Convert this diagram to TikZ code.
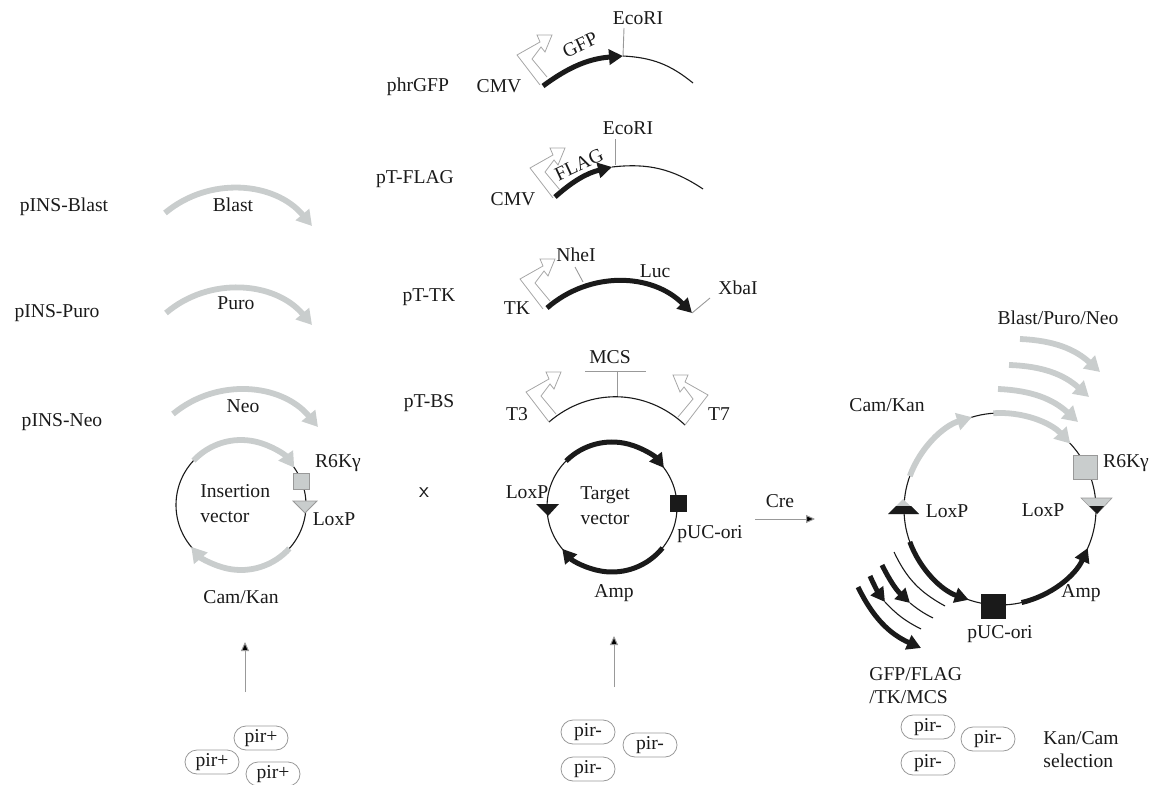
\documentclass[tikz,border=0pt]{standalone}
\usepackage{fontspec}
\setmainfont{Liberation Serif}
\usepackage{xcolor}
\usepackage{tikz}
\usetikzlibrary{arrows.meta, shapes.misc}
\definecolor{featgrey}{HTML}{C9CDCD}
\definecolor{inkblack}{HTML}{1A1A1A}

\begin{document}
\begin{tikzpicture}[
  x=0.5pt, y=-0.5pt,
  lbl/.style={font=\fontsize{9.8}{11.5}\selectfont, text=inkblack, inner sep=0pt, align=left},
  plain/.style={draw=inkblack, line width=0.55pt},
  tick/.style={draw=gray!80, line width=0.45pt},
  greyarc/.style={draw=featgrey, line width=2.9pt, -{Triangle[length=7.5pt, width=8.5pt, fill=featgrey]}},
  blackarc/.style={draw=inkblack, line width=2.5pt, -{Triangle[length=7pt, width=7.5pt, fill=inkblack]}},
  upline/.style={draw=gray!80, line width=0.5pt, -{Triangle[length=4.5pt, width=4pt, fill=black]}},
  pill/.style={rounded rectangle, draw=gray!80, line width=0.4pt, minimum width=27pt,
               minimum height=12pt, inner sep=0pt, font=\fontsize{9.8}{11.5}\selectfont, text=inkblack},
  marker/.style={rectangle, draw=gray!80, line width=0.4pt, inner sep=0pt},
  promoter/.pic={
    \draw[draw=gray!70, line width=0.4pt, line join=miter] (0,0) -- (-23,-30) -- (0,-43) -- (-3,-50)
      -- (12,-50) -- (5,-33) -- (1,-38) -- (-8,-26) -- (7,-8);
  }
]
  \useasboundingbox (0,0) rectangle (1154,785);

  % vector names
  \node[lbl] (nameblast) at (64,207) {pINS-Blast};
  \node[lbl] (namepuro) at (57,313) {pINS-Puro};
  \node[lbl] (nameneo) at (62,422) {pINS-Neo};
  \node[lbl] (namegfp) at (418,87) {phrGFP};
  \node[lbl] (nameflag) at (415,179) {pT-FLAG};
  \node[lbl] (nametk) at (429,297) {pT-TK};
  \node[lbl] (namebs) at (429,403) {pT-BS};

  % insertion cassettes
  \coordinate (blastS) at (165,213); \coordinate (blastE) at (312,226);
  \coordinate (puroS) at (166,313);  \coordinate (puroE) at (312,325);
  \coordinate (neoS) at (173,414);   \coordinate (neoE) at (318,427);
  \foreach \cas in {blast,puro,neo}
    \draw[greyarc] (\cas S) to[bend left=45] (\cas E);
  \node[lbl] (blast) at (233,205) {Blast};
  \node[lbl] (puro) at (236,303) {Puro};
  \node[lbl] (neo) at (243,406) {Neo};

  % insertion vector
  \coordinate (ins) at (241,505);
  \draw[plain] (ins) circle[radius=65];
  \draw[greyarc] ([shift={(223:65)}]ins) arc[start angle=223, end angle=325, radius=65];
  \draw[greyarc] ([shift={(42:65)}]ins) arc[start angle=42, end angle=140, radius=65];
  \node[marker, fill=featgrey, minimum size=8pt] (insr6k) at (301,481) {};
  \draw[draw=gray!80, fill=featgrey, line width=0.4pt] (293,501) -- (317,501) -- (305,513) -- cycle;
  \node[lbl] (instxt) at (200,504) [anchor=west] {Insertion\\[1pt]vector};
  \node[lbl] (r6kins) at (338,463) {R6Kγ};
  \node[lbl] (loxins) at (334,519) {LoxP};
  \node[lbl] (camins) at (241,597) {Cam/Kan};

  \node[font=\fontsize{11}{12}\sffamily\selectfont, text=inkblack, inner sep=0pt] (times) at (424,493) {x};

  % phrGFP
  \coordinate (gfpS) at (543,86); \coordinate (gfpE) at (623,56); \coordinate (gfpT) at (693,83);
  \draw[blackarc] (gfpS) to[bend left=16] (gfpE);
  \draw[plain] (gfpE) to[bend left=18] (gfpT);
  \coordinate (gfpR) at (624,28);
  \draw[tick] (gfpE) -- (gfpR);
  \pic at (540,85) {promoter};
  \node[lbl] (eco1) at (638,18) {EcoRI};
  \node[lbl] (cmv1) at (499,86) {CMV};
  \node[lbl, rotate=25] (gfp) at (580,45) {GFP};

  % pT-FLAG
  \coordinate (flagS) at (555,197); \coordinate (flagE) at (612,167); \coordinate (flagT) at (703,189);
  \draw[blackarc] (flagS) to[bend left=14] (flagE);
  \draw[plain] (flagE) to[bend left=20] (flagT);
  \coordinate (flagR) at (615,139);
  \draw[tick] (615,165) -- (flagR);
  \pic at (553,198) {promoter};
  \node[lbl] (eco2) at (628,128) {EcoRI};
  \node[lbl] (cmv2) at (513,199) {CMV};
  \node[lbl, rotate=25] (flag) at (579,165) {FLAG};

  % pT-TK
  \coordinate (lucS) at (547,308); \coordinate (lucE) at (692,313);
  \draw[blackarc] (lucS) to[bend left=43] (lucE);
  \coordinate (nheS) at (583,282); \coordinate (nheE) at (575,267);
  \draw[tick] (nheS) -- (nheE);
  \coordinate (xbaE) at (710,298);
  \draw[tick] (lucE) -- (xbaE);
  \pic at (543,309) {promoter};
  \node[lbl] (nhe) at (576,255) {NheI};
  \node[lbl] (luc) at (655,271) {Luc};
  \node[lbl] (xba) at (738,288) {XbaI};
  \node[lbl] (tkp) at (517,308) {TK};

  % pT-BS
  \coordinate (bsS) at (549,422); \coordinate (bsE) at (685,425);
  \draw[plain] (bsS) to[bend left=42] (bsE);
  \coordinate (mcsL) at (585,371); \coordinate (mcsR) at (646,371);
  \coordinate (mcsM) at (617,371); \coordinate (mcsB) at (617,396);
  \draw[tick] (mcsL) -- (mcsR);
  \draw[tick] (mcsM) -- (mcsB);
  \pic at (549,422) {promoter};
  \pic[xscale=-1] at (685,425) {promoter};
  \node[lbl] (mcs) at (610,357) {MCS};
  \node[lbl] (t3) at (517,414) {T3};
  \node[lbl] (t7) at (719,414) {T7};

  % target vector
  \coordinate (tgt) at (612,507);
  \draw[plain] (tgt) circle[radius=65];
  \draw[blackarc] ([shift={(225:65)}]tgt) arc[start angle=225, end angle=323, radius=65];
  \draw[blackarc] ([shift={(39:65)}]tgt) arc[start angle=39, end angle=140, radius=65];
  \fill[inkblack] (536,504) -- (559,504) -- (548,516) -- cycle;
  \node[marker, fill=inkblack, draw=inkblack, minimum size=8pt] (tgtori) at (678,503) {};
  \node[lbl, align=center] (tgttxt) at (605,506) {Target\\[1pt]vector};
  \node[lbl] (loxtgt) at (527,492) {LoxP};
  \node[lbl] (puctgt) at (710,534) {pUC-ori};
  \node[lbl] (amptgt) at (614,593) {Amp};

  % cre
  \coordinate (creS) at (755,519); \coordinate (creE) at (815,519);
  \draw[upline] (creS) -- (creE);
  \node[lbl] (cre) at (780,501) {Cre};

  % product
  \coordinate (pro) at (1000,509);
  \draw[plain] (pro) circle[radius=96];
  \draw[greyarc] ([shift={(200:96)}]pro) arc[start angle=200, end angle=253, radius=96];
  \draw[greyarc] ([shift={(266:96)}]pro) arc[start angle=266, end angle=317, radius=96];
  \draw[blackarc] ([shift={(77:96)}]pro) arc[start angle=77, end angle=24, radius=96];
  \draw[blackarc] ([shift={(160:96)}]pro) arc[start angle=160, end angle=109, radius=96];
  \coordinate (resAS) at (1020,339); \coordinate (resAE) at (1100,372);
  \coordinate (resBS) at (1009,365); \coordinate (resBE) at (1089,397);
  \coordinate (resCS) at (998,389);  \coordinate (resCE) at (1078,422);
  \foreach \res in {A,B,C}
    \draw[greyarc] (res\res S) to[bend left=20] (res\res E);
  % stacked inserts
  \coordinate (insAS) at (894,552); \coordinate (insAE) at (945,606);
  \draw[plain] (insAS) to[bend right=18] (insAE);
  \coordinate (insBS) at (882,565); \coordinate (insBM) at (910,603); \coordinate (insBE) at (933,618);
  \draw[blackarc] (insBS) to[bend right=10] (insBM);
  \draw[plain] (insBM) to[bend right=6] (insBE);
  \coordinate (insCS) at (870,576); \coordinate (insCM) at (885,602); \coordinate (insCE) at (921,629);
  \draw[blackarc] (insCS) to[bend right=6] (insCM);
  \draw[plain] (insCM) to[bend right=10] (insCE);
  \coordinate (insDS) at (858,587); \coordinate (insDE) at (921,648);
  \draw[blackarc] (insDS) to[bend right=20] (insDE);

  \node[marker, fill=featgrey, minimum size=12pt] (pror6k) at (1085,467) {};
  \node[marker, fill=inkblack, draw=inkblack, minimum size=12pt] (proori) at (993,606) {};
  % loxP hybrids
  \draw[draw=gray!80, fill=featgrey, line width=0.3pt] (1081,498) -- (1112,498) -- (1097,514) -- cycle;
  \fill[inkblack] (1089,506) -- (1104,506) -- (1097,514) -- cycle;
  \fill[featgrey] (903,499) -- (888,514) -- (919,514) -- cycle;
  \fill[inkblack] (896,506) -- (911,506) -- (919,514) -- (888,514) -- cycle;
  \node[lbl] (resall) at (1058,318) {Blast/Puro/Neo};
  \node[lbl] (campro) at (887,405) {Cam/Kan};
  \node[lbl] (r6kpro) at (1126,463) {R6Kγ};
  \node[lbl] (loxr) at (1043,510) {LoxP};
  \node[lbl] (loxl) at (947,511) {LoxP};
  \node[lbl] (amppro) at (1081,593) {Amp};
  \node[lbl] (pucpro) at (1000,634) {pUC-ori};
  \node[lbl, anchor=west] (cassall) at (869,686) {GFP/FLAG\\/TK/MCS};

  % bacteria
  \node[pill] (pirpa) at (261,738) {pir+};
  \node[pill] (pirpb) at (212,762) {pir+};
  \node[pill] (pirpc) at (273,774) {pir+};
  \node[pill] (pirma) at (588,732) {pir-};
  \node[pill] (pirmb) at (650,745) {pir-};
  \node[pill] (pirmc) at (588,769) {pir-};
  \node[pill] (pirna) at (928,727) {pir-};
  \node[pill] (pirnb) at (988,739) {pir-};
  \node[pill] (pirnc) at (928,763) {pir-};
  \node[lbl] (kansel) at (1081,750) {Kan/Cam\\selection};

  % transformation arrows
  \coordinate (upAS) at (245,692); \coordinate (upAE) at (245,642);
  \coordinate (upBS) at (614,687); \coordinate (upBE) at (614,636);
  \draw[upline] (upAS) -- (upAE);
  \draw[upline] (upBS) -- (upBE);
\end{tikzpicture}
\end{document}
